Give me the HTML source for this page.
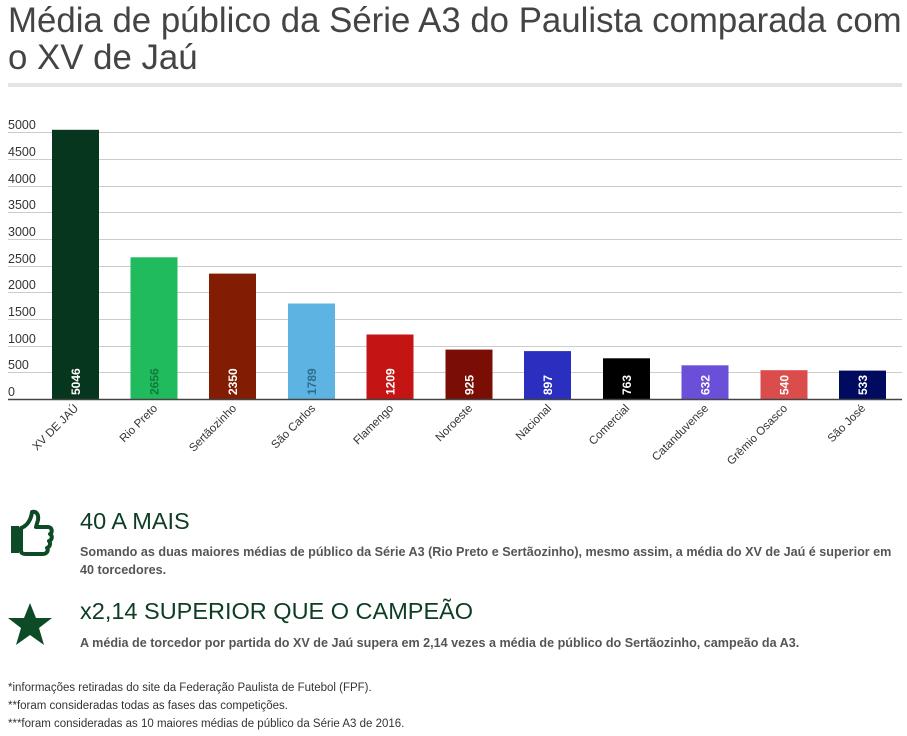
<!DOCTYPE html>
<html><head><meta charset="utf-8"><style>
body{margin:0;width:907px;height:736px;background:#fff;font-family:"Liberation Sans",sans-serif;overflow:hidden;position:relative}
.t{position:absolute;left:8px;top:2px;font-size:34.8px;line-height:37px;color:#444;margin:0;font-weight:normal;white-space:nowrap}
.sep{position:absolute;left:8px;top:83px;width:894px;height:4px;background:#e4e4e4}
h2{position:absolute;left:80px;margin:0;font-weight:normal;font-size:23.5px;color:#0d3d22}
p{position:absolute;left:80px;margin:0;font-size:12.6px;font-weight:bold;color:#555;line-height:18px;width:820px}
.f{position:absolute;left:8px;font-size:11.5px;color:#333}
</style></head><body>
<div class="t">Média de público da Série A3 do Paulista comparada com<br>o XV de Jaú</div>
<div class="sep"></div>
<svg width="907" height="480" style="position:absolute;left:0;top:0" font-family="Liberation Sans, sans-serif">
<g stroke="#ccc" stroke-width="1">
<line x1="8" x2="902" y1="132.5" y2="132.5"/><line x1="8" x2="902" y1="159.5" y2="159.5"/><line x1="8" x2="902" y1="186.5" y2="186.5"/><line x1="8" x2="902" y1="212.5" y2="212.5"/><line x1="8" x2="902" y1="239.5" y2="239.5"/><line x1="8" x2="902" y1="266.5" y2="266.5"/><line x1="8" x2="902" y1="292.5" y2="292.5"/><line x1="8" x2="902" y1="319.5" y2="319.5"/><line x1="8" x2="902" y1="346.5" y2="346.5"/><line x1="8" x2="902" y1="372.5" y2="372.5"/>
</g>
<g font-size="12.5" fill="#333">
<text x="8" y="129">5000</text><text x="8" y="156">4500</text><text x="8" y="183">4000</text><text x="8" y="209">3500</text><text x="8" y="236">3000</text><text x="8" y="263">2500</text><text x="8" y="289">2000</text><text x="8" y="316">1500</text><text x="8" y="343">1000</text><text x="8" y="369">500</text><text x="8" y="396">0</text>
</g>
<g>
<rect x="52" y="129.8" width="47" height="269.2" fill="#06361e"/>
<rect x="130.5" y="257.3" width="47" height="141.7" fill="#1fbb5c"/>
<rect x="209" y="273.6" width="47" height="125.4" fill="#821d03"/>
<rect x="288" y="303.5" width="47" height="95.5" fill="#5db4e2"/>
<rect x="366.5" y="334.5" width="47" height="64.5" fill="#c41414"/>
<rect x="445.5" y="349.6" width="47" height="49.4" fill="#7a0e05"/>
<rect x="524" y="351.1" width="47" height="47.9" fill="#2a2fc0"/>
<rect x="603" y="358.3" width="47" height="40.7" fill="#000"/>
<rect x="681.5" y="365.3" width="47" height="33.7" fill="#6b4fd8"/>
<rect x="760.5" y="370.2" width="47" height="28.8" fill="#db4c4c"/>
<rect x="839" y="370.6" width="47" height="28.4" fill="#000a5e"/>
</g>
<line x1="8" x2="902" y1="399.5" y2="399.5" stroke="#444" stroke-width="1.5"/>
<g font-size="12" font-weight="bold" fill="#fff">
<text transform="translate(80,395) rotate(-90)">5046</text>
<text transform="translate(158.5,395) rotate(-90)" fill="#127a3c">2656</text>
<text transform="translate(237,395) rotate(-90)">2350</text>
<text transform="translate(316,395) rotate(-90)" fill="#2f6d8c">1789</text>
<text transform="translate(394.5,395) rotate(-90)">1209</text>
<text transform="translate(473.5,395) rotate(-90)">925</text>
<text transform="translate(552,395) rotate(-90)">897</text>
<text transform="translate(631,395) rotate(-90)">763</text>
<text transform="translate(709.5,395) rotate(-90)">632</text>
<text transform="translate(788.5,395) rotate(-90)">540</text>
<text transform="translate(867,395) rotate(-90)">533</text>
</g>
<g font-size="11.5" fill="#333" text-anchor="end">
<text transform="translate(79,409) rotate(-45)">XV DE JAÚ</text>
<text transform="translate(158,409) rotate(-45)">Rio Preto</text>
<text transform="translate(237,409) rotate(-45)">Sertãozinho</text>
<text transform="translate(316,409) rotate(-45)">São Carlos</text>
<text transform="translate(394,409) rotate(-45)">Flamengo</text>
<text transform="translate(473,409) rotate(-45)">Noroeste</text>
<text transform="translate(552,409) rotate(-45)">Nacional</text>
<text transform="translate(630,409) rotate(-45)">Comercial</text>
<text transform="translate(709,409) rotate(-45)">Catanduvense</text>
<text transform="translate(788,409) rotate(-45)">Grêmio Osasco</text>
<text transform="translate(866,409) rotate(-45)">São José</text>
</g>
</svg>
<svg width="60" height="60" style="position:absolute;left:6px;top:508px" viewBox="0 0 60 60">
<path d="M5 18 h8 v27 h-8 z" fill="#0d4a26"/>
<path d="M15 20 c6 -2 10 -8 11 -16 c4 -1 7 2 6 8 l-2 7 h12 c4 0 5 5 2 7 c3 2 2 6 -1 7 c2 2 1 6 -2 7 c2 2 0 6 -4 6 h-17 c-3 0 -5 -1 -5 -3 z" fill="#fff" stroke="#0d4a26" stroke-width="4" stroke-linejoin="round"/>
</svg>
<svg width="50" height="48" style="position:absolute;left:7px;top:601px" viewBox="0 0 50 48">
<polygon points="23,2 29,17 45,17 32,27 37,44 23,34 9,44 14,27 1,17 17,17" fill="#0d4a26"/>
</svg>
<h2 style="top:508px">40 A MAIS</h2>
<p style="top:543px">Somando as duas maiores médias de público da Série A3 (Rio Preto e Sertãozinho), mesmo assim, a média do XV de Jaú é superior em 40 torcedores.</p>
<h2 style="top:598px">x2,14 SUPERIOR QUE O CAMPEÃO</h2>
<p style="top:634px">A média de torcedor por partida do XV de Jaú supera em 2,14 vezes a média de público do Sertãozinho, campeão da A3.</p>
<div class="f" style="top:682px">*informações retiradas do site da Federação Paulista de Futebol (FPF).</div>
<div class="f" style="top:700px">**foram consideradas todas as fases das competições.</div>
<div class="f" style="top:718px">***foram consideradas as 10 maiores médias de público da Série A3 de 2016.</div>
</body></html>
